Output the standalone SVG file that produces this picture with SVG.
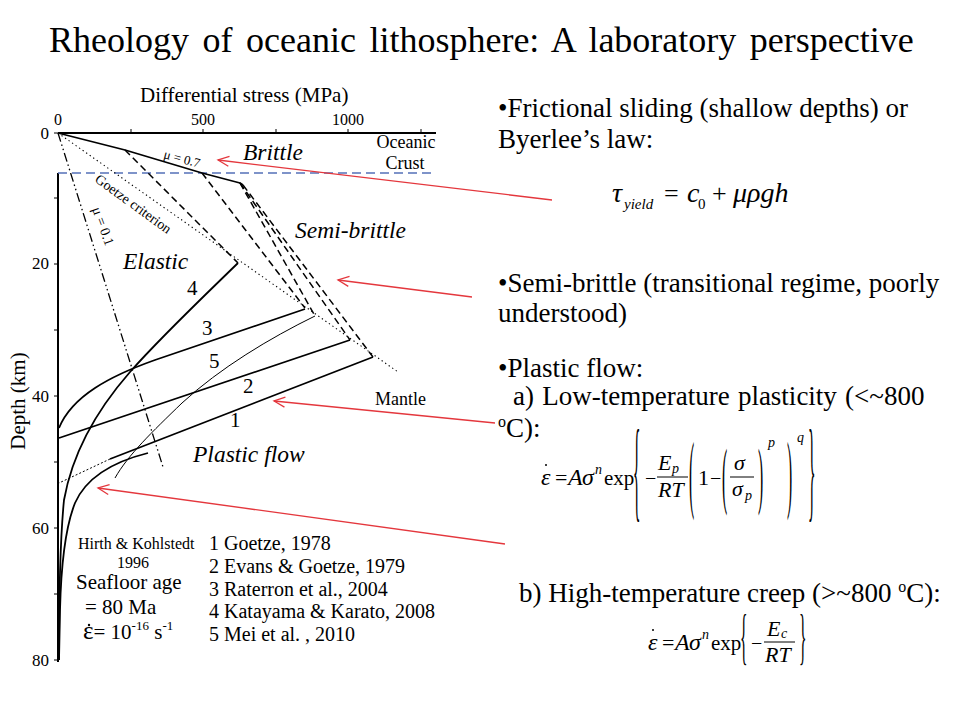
<svg xmlns="http://www.w3.org/2000/svg" width="960" height="720" viewBox="0 0 960 720">
<defs>
<style>
text{font-family:"Liberation Serif","Times New Roman",serif;fill:#000}
.it{font-style:italic}
.ax{stroke:#000;stroke-width:2;fill:none}
.tk{stroke:#000;stroke-width:1;fill:none}
.sol{stroke:#000;stroke-width:1.8;fill:none;stroke-linejoin:round}
.thin{stroke:#000;stroke-width:1;fill:none}
.dsh{stroke:#000;stroke-width:1.5;fill:none;stroke-dasharray:7 4}
.dot{stroke:#000;stroke-width:1.1;fill:none;stroke-dasharray:1.3 3}
.dd{stroke:#000;stroke-width:1.3;fill:none;stroke-dasharray:9 3 1.5 3 1.5 3}
.red{stroke:#e4373d;stroke-width:1.3;fill:none;marker-end:url(#ah)}
.bar{stroke:#000;stroke-width:1;fill:none}
.rt{font-size:27px}
.m{font-size:24px}
.ms{font-size:14px}
.dt{fill:#000}
</style>
<marker id="ah" viewBox="-13 -7 15 14" refX="0" refY="0" markerWidth="15" markerHeight="14" markerUnits="userSpaceOnUse" orient="auto">
<path d="M-11,-5 L0,0 L-11,5" fill="none" stroke="#e4373d" stroke-width="1.3"/>
</marker>
</defs>
<rect width="960" height="720" fill="#fff"/>

<text id="title" x="49" y="52" font-size="36" word-spacing="4.5">Rheology of oceanic lithosphere: A laboratory perspective</text>

<g id="axes">
<path class="ax" d="M58,133 H436"/>
<path class="ax" d="M58,173 V662"/>
<path class="tk" d="M131,133 v-4 M203,133 v-4 M276,133 v-4 M348,133 v-4 M421,133 v-4"/>
<path class="tk" d="M58,133 h-4 M58,198 h-4 M58,264 h-4 M58,330 h-4 M58,396 h-4 M58,462 h-4 M58,528 h-4 M58,594 h-4 M58,660 h-4"/>
<text x="140" y="102" font-size="21">Differential stress (MPa)</text>
<text x="58" y="125" font-size="16" text-anchor="middle">0</text>
<text x="203" y="125" font-size="16" text-anchor="middle">500</text>
<text x="348" y="125" font-size="16" text-anchor="middle">1000</text>
<text x="49" y="139" font-size="17" text-anchor="end">0</text>
<text x="49" y="269" font-size="17" text-anchor="end">20</text>
<text x="49" y="402" font-size="17" text-anchor="end">40</text>
<text x="49" y="534" font-size="17" text-anchor="end">60</text>
<text x="49" y="666" font-size="17" text-anchor="end">80</text>
<text transform="translate(25,401) rotate(-90)" font-size="21" text-anchor="middle">Depth (km)</text>
</g>

<g id="moho">
<path d="M58,173 H432" stroke="#5470b8" stroke-width="1.6" stroke-dasharray="9 5" fill="none"/>
</g>

<g id="curves">
<path class="sol" d="M58,133 L125,150 L202,173 L240,183 L243,185"/>
<path class="dsh" d="M125,150 L238,263"/>
<path class="dsh" d="M202,173 L305,308"/>
<path class="dsh" d="M240,183 L315,316"/>
<path class="dsh" d="M240,183 L350,340"/>
<path class="dsh" d="M243,185 L373,357"/>
<path class="dot" d="M58,133 L398,372"/>
<path class="dd" d="M58,133 L163,467"/>
<path class="sol" d="M238,263 C200,300 160,338 130,372 C95,412 72,455 64,500 C60,540 59,600 59,660"/>
<path class="sol" d="M305,309 L155,360 C110,376 72,396 59,428"/>
<path class="thin" d="M315,316 C270,338 220,368 182,403 C152,432 128,455 115,478"/>
<path class="sol" d="M350,340 L59,438"/>
<path class="sol" d="M373,357 L110,459"/>
<path class="thin" d="M110,459 L59,483" stroke-dasharray="2 2"/>
<path class="sol" d="M148,453 C112,462 86,478 75,503 C65,528 61,568 60,610 L59,660"/>
</g>

<g id="plot-labels">
<text x="243" y="160" font-size="23.5" class="it">Brittle</text>
<text x="406" y="148" font-size="18" text-anchor="middle">Oceanic</text>
<text x="405" y="169" font-size="18" text-anchor="middle">Crust</text>
<text transform="translate(163,158) rotate(15)" font-size="13">μ = 0.7</text>
<text transform="translate(94,181) rotate(36)" font-size="14">Goetze criterion</text>
<text transform="translate(92,209) rotate(70)" font-size="14">μ = 0.1</text>
<text x="295" y="238" font-size="23.5" class="it">Semi-brittle</text>
<text x="123" y="269" font-size="23.5" class="it">Elastic</text>
<text x="187" y="295" font-size="21">4</text>
<text x="202" y="335" font-size="21">3</text>
<text x="209" y="368" font-size="21">5</text>
<text x="243" y="393" font-size="21">2</text>
<text x="230" y="427" font-size="21">1</text>
<text x="193" y="462" font-size="23.5" class="it">Plastic flow</text>
<text x="375" y="405" font-size="18">Mantle</text>
</g>

<g id="legend">
<text x="78" y="549" font-size="16">Hirth &amp; Kohlstedt</text>
<text x="133" y="568" font-size="16" text-anchor="middle">1996</text>
<text x="76" y="589" font-size="21">Seafloor age</text>
<text x="85" y="614" font-size="21">= 80 Ma</text>
<circle class="dt" cx="89" cy="625" r="1.2"/>
<text x="83" y="639" font-size="21"><tspan font-size="25">ε</tspan>= 10<tspan font-size="13" dy="-9">-16</tspan><tspan dy="9"> s</tspan><tspan font-size="13" dy="-9">-1</tspan></text>
<text x="209" y="550" font-size="20">1 Goetze, 1978</text>
<text x="209" y="573" font-size="20">2 Evans &amp; Goetze, 1979</text>
<text x="209" y="596" font-size="20">3 Raterron et al., 2004</text>
<text x="209" y="618" font-size="20">4 Katayama &amp; Karato, 2008</text>
<text x="209" y="641" font-size="20">5 Mei et al. , 2010</text>
</g>

<g id="connectors">
<path class="red" d="M552,200 L218,160"/>
<path class="red" d="M472,297 L338,280"/>
<path class="red" d="M495,423 L274,401"/>
<path class="red" d="M505,544 L98,488"/>
</g>

<g id="text-brittle">
<text x="498" y="117" class="rt">•Frictional sliding (shallow depths) or</text>
<text x="498" y="148" class="rt">Byerlee’s law:</text>
<text x="612" y="202" font-size="28" class="it">τ</text>
<text x="624" y="209" font-size="15" class="it">yield</text>
<text x="664" y="202" font-size="26">=</text>
<text x="687" y="202" font-size="28" class="it">c</text>
<text x="698" y="209" font-size="15">0</text>
<text x="712" y="202" font-size="26">+</text>
<text x="733" y="202" font-size="28" class="it">μρgh</text>
</g>

<g id="text-semibrittle">
<text x="498" y="292" class="rt">•Semi-brittle (transitional regime, poorly</text>
<text x="498" y="322" class="rt">understood)</text>
</g>

<g id="text-plastic">
<text x="498" y="377" class="rt">•Plastic flow:</text>
<text x="513" y="405" class="rt" word-spacing="1.5">a) Low-temperature plasticity (&lt;~800</text>
<text x="498" y="437" class="rt"><tspan font-size="16" dy="-10">o</tspan><tspan dy="10">C):</tspan></text>
<circle class="dt" cx="546" cy="465" r="1"/>
<text x="541" y="485" class="m it">ε</text>
<text x="555" y="485" font-size="22">=</text>
<text x="568" y="485" class="m it">A</text>
<text x="582" y="485" class="m it">σ</text>
<text x="595" y="474" class="ms it">n</text>
<text x="604" y="485" font-size="21">exp</text>
<text transform="translate(633,507) scale(0.65,4.7)" class="m">{</text>
<text x="645" y="485" font-size="20">−</text>
<text x="658" y="470" font-size="22" class="it">E</text>
<text x="672" y="473" class="ms it">p</text>
<path class="bar" d="M657,477 H688"/>
<text x="658" y="497" font-size="22" class="it">RT</text>
<text transform="translate(689,502) scale(0.65,3.6)" class="m">(</text>
<text x="698" y="485" font-size="22">1</text>
<text x="710" y="485" font-size="20">−</text>
<text transform="translate(722,500) scale(0.65,3.06)" class="m">(</text>
<text x="734" y="470" font-size="22" class="it">σ</text>
<path class="bar" d="M730,477 H754"/>
<text x="732" y="496" font-size="22" class="it">σ</text>
<text x="745" y="500" class="ms it">p</text>
<text transform="translate(758,500) scale(0.65,3.06)" class="m">)</text>
<text x="768" y="447" class="ms it">p</text>
<text transform="translate(787,502) scale(0.65,3.6)" class="m">)</text>
<text x="797" y="442" class="ms it">q</text>
<text transform="translate(808,507) scale(0.65,4.7)" class="m">}</text>
</g>

<g id="text-creep">
<text x="519" y="602" class="rt">b) High-temperature creep (&gt;~800 <tspan font-size="16" dy="-10">o</tspan><tspan dy="10">C):</tspan></text>
<circle class="dt" cx="653" cy="630" r="1"/>
<text x="648" y="650" class="m it">ε</text>
<text x="662" y="650" font-size="22">=</text>
<text x="675" y="650" class="m it">A</text>
<text x="689" y="650" class="m it">σ</text>
<text x="702" y="639" class="ms it">n</text>
<text x="711" y="650" font-size="21">exp</text>
<text transform="translate(740,657) scale(0.65,2.55)" class="m">{</text>
<text x="751" y="650" font-size="20">−</text>
<text x="767" y="636" font-size="22" class="it">E</text>
<text x="781" y="638" class="ms it">c</text>
<path class="bar" d="M764,642 H795"/>
<text x="765" y="662" font-size="22" class="it">RT</text>
<text transform="translate(799,657) scale(0.65,2.55)" class="m">}</text>
</g>
</svg>
